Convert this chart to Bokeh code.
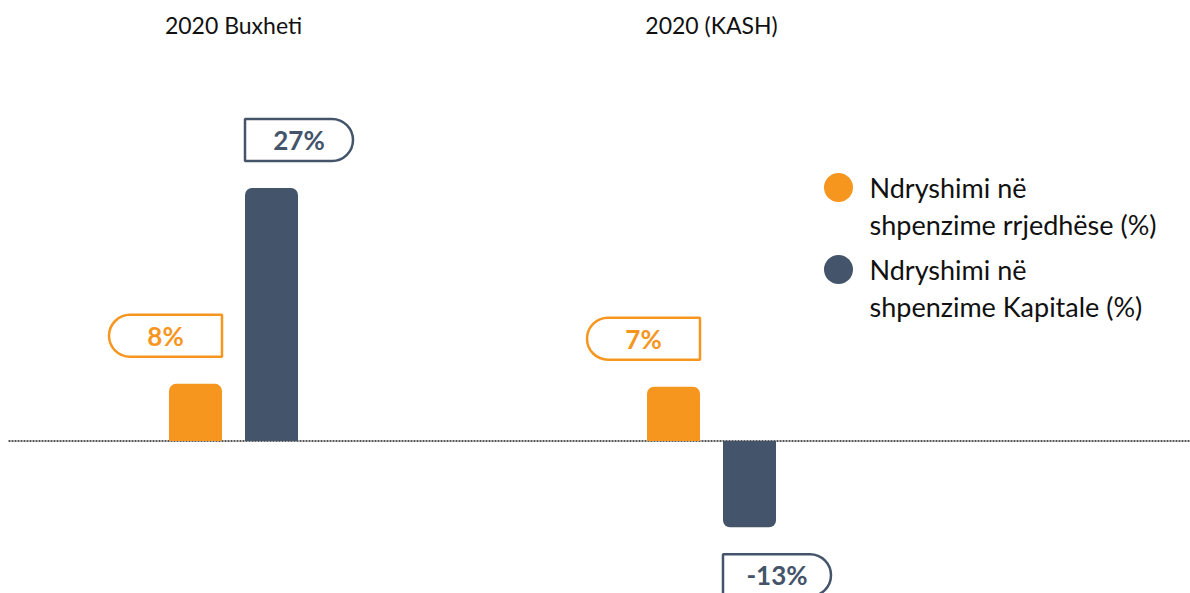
from bokeh.plotting import figure
from bokeh.models import Range1d
from bokeh.core.properties import value
from bokeh.embed import file_html
from bokeh.resources import INLINE

# ---- data ----
groups = ["2020 Buxheti", "2020 (KASH)"]
current_name = ["Ndryshimi në", "shpenzime rrjedhëse (%)"]
capital_name = ["Ndryshimi në", "shpenzime Kapitale (%)"]
current_heights = [6.1, 5.8]      # bar heights as drawn in the picture
capital_heights = [27.0, -9.2]
current_labels = ["8%", "7%"]
capital_labels = ["27%", "-13%"]

ORANGE = "#F7961F"
NAVY = "#44546A"
FONT = "Lato"

W, H = 1190, 593
PPU = 9.37            # pixels per percentage unit
ZERO_PX = 440.5       # zero line, px from top of figure


def py(px):
    return (ZERO_PX - px) / PPU


p = figure(width=W, height=H, x_range=Range1d(0, W),
           y_range=Range1d(py(H), py(0)),
           output_backend="svg", toolbar_location=None, min_border=0)
p.axis.visible = False
p.grid.visible = False
p.outline_line_color = None
p.background_fill_color = "white"

group_x = [233, 711]
off = 38
bw = 53
cur_x = [g - off for g in group_x]
cap_x = [g + off for g in group_x]

# zero line (dotted)
p.segment(x0=[8], y0=[0], x1=[W], y1=[0], line_color="#222222",
          line_width=1.3, line_dash="2 1")

# bars
def bars(xs, hs, color):
    pos = [(x, h) for x, h in zip(xs, hs) if h >= 0]
    neg = [(x, h) for x, h in zip(xs, hs) if h < 0]
    if pos:
        p.vbar(x=[a for a, _ in pos], top=[b for _, b in pos], bottom=0, width=bw,
               fill_color=color, line_color=None, border_radius=(7, 7, 0, 0))
    if neg:
        p.vbar(x=[a for a, _ in neg], top=0, bottom=[b for _, b in neg], width=bw,
               fill_color=color, line_color=None, border_radius=(0, 0, 7, 7))

bars(cur_x, current_heights, ORANGE)
bars(cap_x, capital_heights, NAVY)

GAP = 27 / PPU
BH = 42 / PPU

# label boxes: orange -> box right aligned to bar right, rounded left
for x, h, lab in zip(cur_x, current_heights, current_labels):
    right = x + bw / 2
    left = right - 113
    if h >= 0:
        bot = h + GAP; top = bot + BH
    else:
        top = h - GAP; bot = top - BH
    p.quad(left=[left], right=[right], top=[top], bottom=[bot], fill_color="white",
           line_color=ORANGE, line_width=2.5, border_radius=(21, 0, 0, 21))
    p.text(x=[(left + right) / 2], y=[(top + bot) / 2], text=[lab], text_color=ORANGE,
           text_font=value(FONT), text_font_style="bold", text_font_size="26px",
           text_align="center", text_baseline="middle")

# capital -> box left aligned to bar left, rounded right
for x, h, lab in zip(cap_x, capital_heights, capital_labels):
    left = x - bw / 2
    right = left + 108
    if h >= 0:
        bot = h + GAP; top = bot + BH
    else:
        top = h - GAP; bot = top - BH
    p.quad(left=[left], right=[right], top=[top], bottom=[bot], fill_color="white",
           line_color=NAVY, line_width=2.5, border_radius=(0, 21, 21, 0))
    p.text(x=[(left + right) / 2], y=[(top + bot) / 2], text=[lab], text_color=NAVY,
           text_font=value(FONT), text_font_style="bold", text_font_size="26px",
           text_align="center", text_baseline="middle")

# group titles
p.text(x=group_x, y=[py(24)] * 2, text=groups, text_color="#111111",
       text_font=value(FONT), text_font_size="23px",
       text_align="center", text_baseline="middle")

# legend
for (cy, name, color) in [(187, current_name, ORANGE), (269, capital_name, NAVY)]:
    p.scatter(x=[838], y=[py(cy)], size=29, marker="circle", fill_color=color, line_color=None)
    p.text(x=[869, 869], y=[py(cy), py(cy + 37)], text=name, text_color="#111111",
           text_font=value(FONT), text_font_size="27px",
           text_align="left", text_baseline="middle")

open("out.html", "w").write(file_html(p, INLINE))
